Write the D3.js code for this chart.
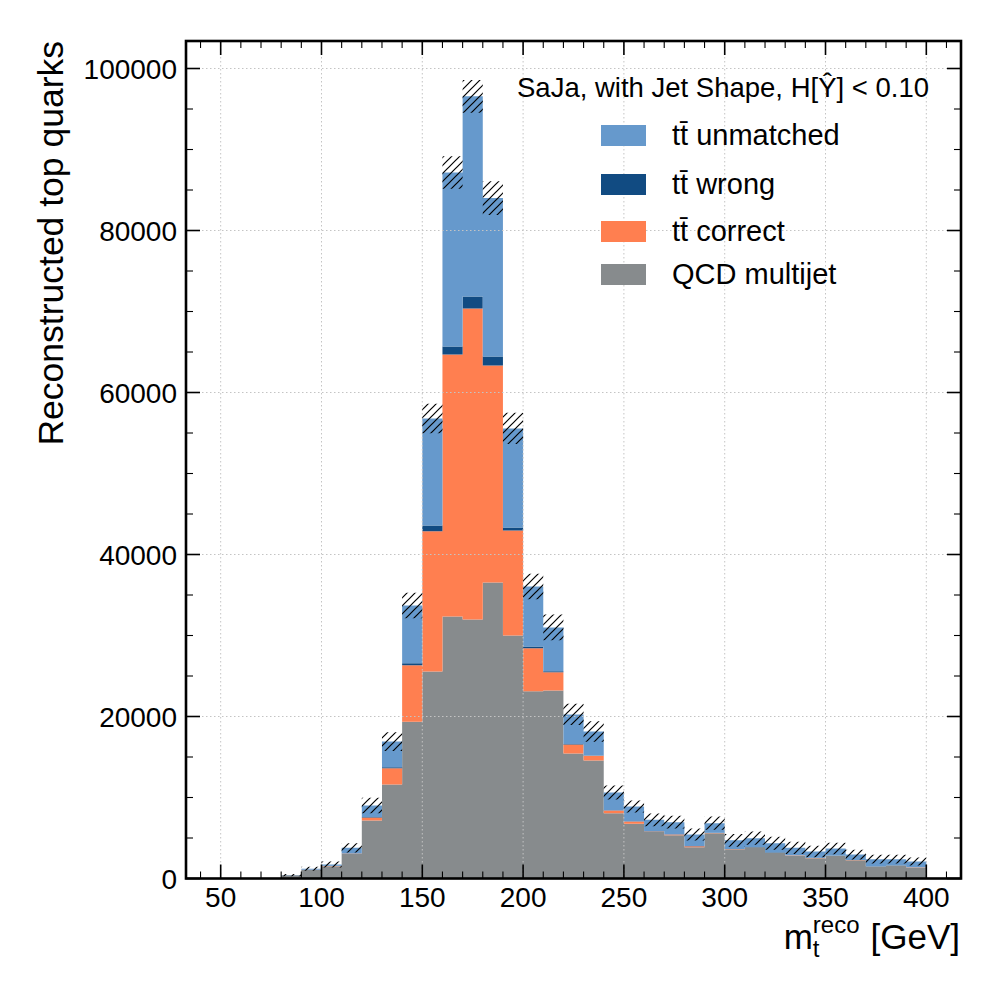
<!DOCTYPE html>
<html lang="en">
<head>
    <meta charset="UTF-8">
    <title>Reconstructed top mass</title>
    <style>
        body {
            margin: 0;
            background: #fff;
            font-family: "Liberation Sans", Arial, sans-serif;
        }
        svg text {
            font-family: "Liberation Sans", Arial, sans-serif;
            fill: #000;
        }
    </style>
    <script src="https://d3js.org/d3.v7.min.js"></script>
</head>
<body>
    <svg id="chart" width="1000" height="1000"></svg>

    <script>
        // Bin lower edges in GeV (width 10)
        const binLo = [80, 90, 100, 110, 120, 130, 140, 150, 160, 170, 180, 190, 200, 210, 220, 230,
                       240, 250, 260, 270, 280, 290, 300, 310, 320, 330, 340, 350, 360, 370, 380, 390];
        const binWidth = 10;

        // Stack components, bottom to top
        const qcd = [400, 1050, 1520, 3050, 7160, 11600, 19340, 25560, 32350, 31980, 36540, 30000, 23120, 23210, 15430, 14570,
                     8060, 6750, 5800, 5350, 3870, 5600, 3600, 3850, 3170, 2840, 2510, 2800, 2260, 1480, 1600, 1360];
        const correct = [0, 20, 30, 50, 370, 2020, 7000, 17310, 32340, 38390, 26790, 12960, 5310, 2260, 1110, 570,
                         340, 290, 40, 80, 120, 30, 30, 20, 20, 20, 20, 20, 15, 15, 15, 15];
        const wrong = [0, 10, 10, 20, 70, 120, 240, 710, 990, 1480, 1110, 370, 210, 130, 60, 50,
                       30, 20, 30, 20, 20, 20, 20, 20, 60, 20, 20, 20, 15, 15, 15, 15];
        const unmatched = [20, 120, 170, 670, 1410, 3160, 7120, 13210, 21480, 24710, 19560, 12230, 7410, 5400, 3650, 2960,
                           2190, 1830, 1370, 1500, 1420, 1180, 1060, 1090, 1090, 910, 780, 860, 670, 880, 760, 710];
        // Uncertainty on the total (hatched band half-height)
        const totalErr = [150, 250, 370, 570, 950, 1160, 1570, 1810, 2010, 2030, 2080, 1930, 1560, 1600, 1310, 1270,
                          860, 740, 800, 790, 740, 820, 780, 820, 800, 750, 700, 700, 600, 550, 550, 500];

        const seriesKeys = ["qcd", "correct", "wrong", "unmatched"];
        const seriesColors = { qcd: "#878b8d", correct: "#ff7f50", wrong: "#114b82", unmatched: "#6699cc" };

        const legendKeys = ["unmatched", "wrong", "correct", "qcd"];
        const legendLabels = {
            unmatched: "tt\u0304 unmatched",
            wrong: "tt\u0304 wrong",
            correct: "tt\u0304 correct",
            qcd: "QCD multijet"
        };
        const titleText = "SaJa, with Jet Shape, H[\u0176] < 0.10";

        const xMajor = [50, 100, 150, 200, 250, 300, 350, 400];
        const yMajor = [0, 20000, 40000, 60000, 80000, 100000];

        // Layout
        const plot = { left: 186, right: 961, top: 41, bottom: 878.5 };

        const svg = d3.select("#chart");

        // Rows built from the arrays, plus a closing point for the step shapes
        const rows = binLo.map((lo, i) => ({
            x: lo,
            qcd: qcd[i], correct: correct[i], wrong: wrong[i], unmatched: unmatched[i],
            err: totalErr[i]
        }));
        rows.forEach(r => { r.total = r.qcd + r.correct + r.wrong + r.unmatched; });
        const stepRows = rows.concat([Object.assign({}, rows[rows.length - 1], { x: binLo[binLo.length - 1] + binWidth })]);

        const yMax = d3.max(rows, r => r.total + r.err) * 1.05;

        const x = d3.scaleLinear().domain([32.3, 417.7]).range([plot.left - 1, plot.right + 1]);
        const y = d3.scaleLinear().domain([0, yMax]).range([plot.bottom, plot.top - 1]);

        // Hatch pattern
        const defs = svg.append("defs");
        const hs = 8;
        const pat = defs.append("pattern")
            .attr("id", "hatch")
            .attr("patternUnits", "userSpaceOnUse")
            .attr("width", hs).attr("height", hs);
        pat.append("path")
            .attr("d", `M-1,${hs + 1} L${hs + 1},-1 M-1,1 L1,-1 M${hs - 1},${hs + 1} L${hs + 1},${hs - 1}`)
            .attr("stroke", "#000")
            .attr("stroke-width", 1.2);

        defs.append("clipPath").attr("id", "plotClip")
            .append("rect")
            .attr("x", plot.left).attr("y", plot.top)
            .attr("width", plot.right - plot.left).attr("height", plot.bottom - plot.top);

        const gPlot = svg.append("g").attr("clip-path", "url(#plotClip)");

        // Stacked step areas
        const stack = d3.stack().keys(seriesKeys);
        const layers = stack(stepRows);

        const area = d3.area()
            .curve(d3.curveStepAfter)
            .x(d => x(d.data.x))
            .y0(d => y(d[0]))
            .y1(d => y(d[1]));

        gPlot.selectAll("path.layer")
            .data(layers)
            .enter()
            .append("path")
            .attr("class", "layer")
            .attr("fill", d => seriesColors[d.key])
            .attr("d", area);

        // Grid on top of the bars
        const gGrid = gPlot.append("g");
        gGrid.selectAll("line.gx")
            .data(xMajor)
            .enter().append("line")
            .attr("x1", d => x(d)).attr("x2", d => x(d))
            .attr("y1", plot.top).attr("y2", plot.bottom)
            .attr("stroke", "#c4c4c4").attr("stroke-width", 1)
            .attr("stroke-dasharray", "1.5,2.5");
        gGrid.selectAll("line.gy")
            .data(yMajor)
            .enter().append("line")
            .attr("y1", d => y(d)).attr("y2", d => y(d))
            .attr("x1", plot.left).attr("x2", plot.right)
            .attr("stroke", "#c4c4c4").attr("stroke-width", 1)
            .attr("stroke-dasharray", "1.5,2.5");

        // Hatched uncertainty band
        const band = d3.area()
            .curve(d3.curveStepAfter)
            .x(d => x(d.x))
            .y0(d => y(d.total - d.err))
            .y1(d => y(d.total + d.err));

        gPlot.append("path")
            .datum(stepRows)
            .attr("fill", "url(#hatch)")
            .attr("d", band);

        // Ticks on all four sides (inward)
        const xMinor = d3.range(40, 411, 10).filter(v => v % 50 !== 0);
        const yMinor = d3.range(5000, yMax, 5000).filter(v => v % 20000 !== 0);
        const majorLen = 14, minorLen = 7;

        const gTicks = svg.append("g").attr("stroke", "#000");
        function xTicks(vals, len, w) {
            vals.forEach(v => {
                gTicks.append("line")
                    .attr("x1", x(v)).attr("x2", x(v))
                    .attr("y1", plot.bottom).attr("y2", plot.bottom - len)
                    .attr("stroke-width", w);
                gTicks.append("line")
                    .attr("x1", x(v)).attr("x2", x(v))
                    .attr("y1", plot.top).attr("y2", plot.top + len)
                    .attr("stroke-width", w);
            });
        }
        function yTicks(vals, len, w) {
            vals.forEach(v => {
                gTicks.append("line")
                    .attr("y1", y(v)).attr("y2", y(v))
                    .attr("x1", plot.left).attr("x2", plot.left + len)
                    .attr("stroke-width", w);
                gTicks.append("line")
                    .attr("y1", y(v)).attr("y2", y(v))
                    .attr("x1", plot.right).attr("x2", plot.right - len)
                    .attr("stroke-width", w);
            });
        }
        xTicks(xMajor, majorLen, 1.6);
        xTicks(xMinor, minorLen, 1.1);
        yTicks(yMajor, majorLen, 1.6);
        yTicks(yMinor, minorLen, 1.1);

        // Frame
        svg.append("rect")
            .attr("x", plot.left).attr("y", plot.top)
            .attr("width", plot.right - plot.left).attr("height", plot.bottom - plot.top)
            .attr("fill", "none")
            .attr("stroke", "#000")
            .attr("stroke-width", 2.6);

        // Tick labels
        svg.append("g").selectAll("text")
            .data(xMajor)
            .enter().append("text")
            .attr("x", d => x(d))
            .attr("y", 907)
            .attr("text-anchor", "middle")
            .attr("font-size", 28)
            .text(d => d);

        svg.append("g").selectAll("text")
            .data(yMajor)
            .enter().append("text")
            .attr("x", 177)
            .attr("y", d => y(d) + 10)
            .attr("text-anchor", "end")
            .attr("font-size", 28)
            .text(d => d);

        // Axis labels
        svg.append("text")
            .attr("transform", "translate(63," + plot.top + ") rotate(-90)")
            .attr("text-anchor", "end")
            .attr("font-size", 35.5)
            .text("Reconstructed top quarks");

        // x label: m with stacked sub/superscript, right aligned
        const xl = svg.append("g");
        const tGeV = xl.append("text").attr("font-size", 35).text("[GeV]");
        const tM = xl.append("text").attr("font-size", 35).text("m");
        const tSup = xl.append("text").attr("font-size", 24).text("reco");
        const tSub = xl.append("text").attr("font-size", 24).text("t");
        const wGeV = tGeV.node().getComputedTextLength();
        const wM = tM.node().getComputedTextLength();
        const wSup = tSup.node().getComputedTextLength();
        const xEnd = 960, base = 949;
        const gevX = xEnd - wGeV;
        const scriptX = gevX - 11 - wSup;
        tGeV.attr("x", gevX).attr("y", base);
        tSup.attr("x", scriptX).attr("y", base - 16);
        tSub.attr("x", scriptX).attr("y", base + 8);
        tM.attr("x", scriptX - wM).attr("y", base);

        // Title inside the frame
        svg.append("text")
            .attr("x", 929)
            .attr("y", 97)
            .attr("text-anchor", "end")
            .attr("font-size", 27.5)
            .text(titleText);

        // Legend
        const legendRowY = [135.5, 184.5, 231.5, 274.5];
        const gLeg = svg.append("g");
        legendKeys.forEach((k, i) => {
            gLeg.append("rect")
                .attr("x", 601).attr("y", legendRowY[i] - 10.5)
                .attr("width", 45).attr("height", 21)
                .attr("fill", seriesColors[k]);
            gLeg.append("text")
                .attr("x", 672).attr("y", legendRowY[i] + 9)
                .attr("font-size", 29)
                .text(legendLabels[k]);
        });
    </script>
</body>
</html>
